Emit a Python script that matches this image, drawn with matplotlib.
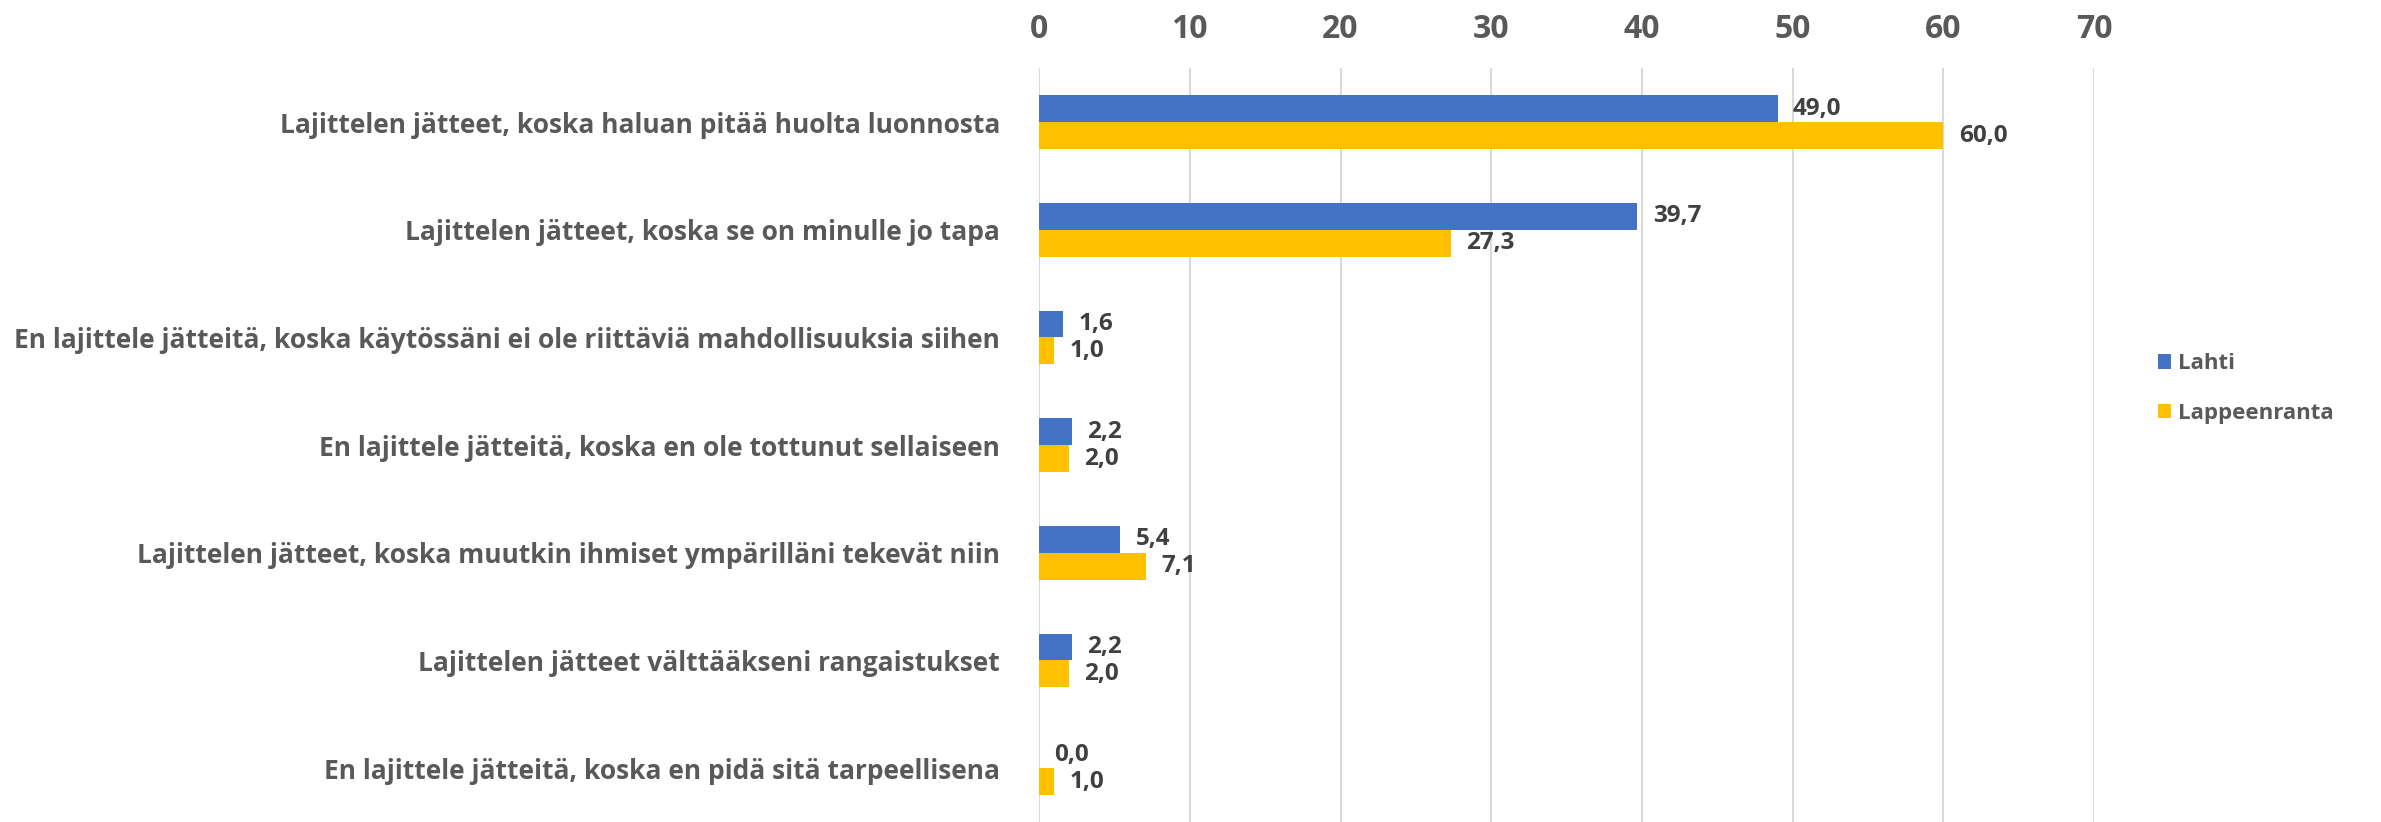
import numpy as np
import matplotlib.pyplot as plt

categories = [
    "Lajittelen jätteet, koska haluan pitää huolta luonnosta",
    "Lajittelen jätteet, koska se on minulle jo tapa",
    "En lajittele jätteitä, koska käytössäni ei ole riittäviä mahdollisuuksia siihen",
    "En lajittele jätteitä, koska en ole tottunut sellaiseen",
    "Lajittelen jätteet, koska muutkin ihmiset ympärilläni tekevät niin",
    "Lajittelen jätteet välttääkseni rangaistukset",
    "En lajittele jätteitä, koska en pidä sitä tarpeellisena",
]
lahti = [49.0, 39.7, 1.6, 2.2, 5.4, 2.2, 0.0]
lappeenranta = [60.0, 27.3, 1.0, 2.0, 7.1, 2.0, 1.0]
series_names = ["Lahti", "Lappeenranta"]
xticks = [0, 10, 20, 30, 40, 50, 60, 70]

plt.rcParams['font.family'] = ['Open Sans', 'DejaVu Sans']
plt.rcParams['font.weight'] = 'bold'

fig = plt.figure(figsize=(23.81, 8.22), dpi=100)
ax = fig.add_axes([0.4364, 0.0, 0.8795 - 0.4364, 0.917])

y = np.arange(len(categories))
h = 0.25
b1 = ax.barh(y - h / 2, lahti, height=h, color="#4472C4", label=series_names[0])
b2 = ax.barh(y + h / 2, lappeenranta, height=h, color="#FFC000", label=series_names[1])

for bars, vals in ((b1, lahti), (b2, lappeenranta)):
    for bar, v in zip(bars, vals):
        ax.annotate(f"{v:.1f}".replace(".", ","),
                    (bar.get_width(), bar.get_y() + bar.get_height() / 2),
                    xytext=(11, 0), textcoords="offset points",
                    ha="left", va="center", fontsize=17.5, fontweight="bold",
                    color="#404040")

ax.set_xlim(0, 70)
ax.set_ylim(len(categories) - 0.5, -0.5)
ax.set_xticks(xticks)
ax.xaxis.tick_top()
ax.tick_params(axis="x", length=0, labelsize=23, labelcolor="#595959", pad=16)
ax.set_yticks(y)
ax.set_yticklabels(categories)
ax.tick_params(axis="y", length=0, labelsize=19, labelcolor="#595959", pad=28)
ax.grid(axis="x", color="#D9D9D9", linewidth=1.5)
ax.set_axisbelow(True)
for s in ax.spines.values():
    s.set_visible(False)

fig.legend(handles=[b1, b2], labels=series_names, loc="center left",
           bbox_to_anchor=(0.898, 0.527), frameon=False, fontsize=16,
           labelcolor="#595959", handlelength=0.6, handleheight=0.6,
           labelspacing=1.3, handletextpad=0.3)

fig.savefig("out.png", dpi=100)
